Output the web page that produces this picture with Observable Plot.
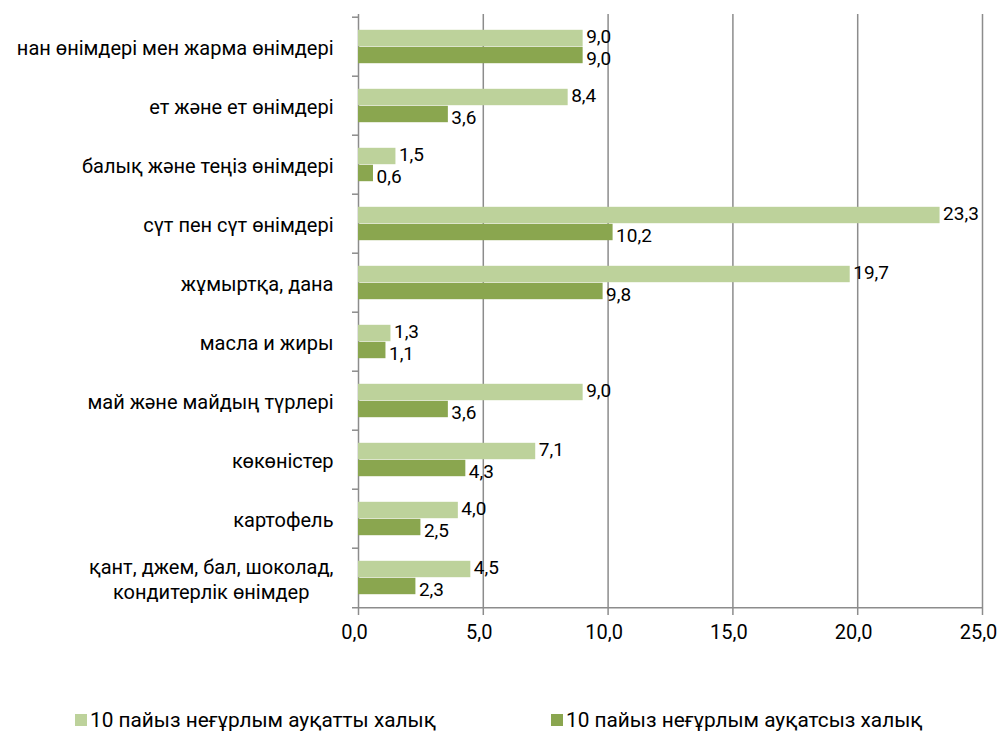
<!DOCTYPE html>
<html>
<head>
<meta charset="utf-8">
<script src="https://cdn.jsdelivr.net/npm/d3@7"></script>
<script src="https://cdn.jsdelivr.net/npm/@observablehq/plot@0.6"></script>
<style>
  body { margin: 0; background: #fff; }
  #chart { position: relative; width: 999px; height: 734px; }
  .legend { position: absolute; top: 706px; left: 0; width: 999px; height: 28px;
            font-family: Roboto, sans-serif; font-size: 20.8px; color: #000; }
  .legend .item { position: absolute; top: 0; display: flex; align-items: center; height: 28px; white-space: nowrap; }
  .legend .sw { width: 12px; height: 12px; margin-right: 3px; }
</style>
</head>
<body>
<div id="chart"></div>
<script>
const categories = [
  "нан өнімдері мен жарма өнімдері",
  "ет және ет өнімдері",
  "балық және теңіз өнімдері",
  "сүт пен сүт өнімдері",
  "жұмыртқа, дана",
  "масла и жиры",
  "май және майдың түрлері",
  "көкөністер",
  "картофель",
  "қант, джем, бал, шоколад,\nкондитерлік өнімдер"
];
const seriesNames = ["10 пайыз неғұрлым ауқатты халық", "10 пайыз неғұрлым ауқатсыз халық"];
const richValues = [9.0, 8.4, 1.5, 23.3, 19.7, 1.3, 9.0, 7.1, 4.0, 4.5];
const poorValues = [9.0, 3.6, 0.6, 10.2, 9.8, 1.1, 3.6, 4.3, 2.5, 2.3];
const xTicks = [0, 5, 10, 15, 20, 25];
const colors = ["#bdd29b", "#8aa64f"];

const rows = [];
categories.forEach((c, i) => {
  rows.push({cat: c, series: seriesNames[0], value: richValues[i]});
  rows.push({cat: c, series: seriesNames[1], value: poorValues[i]});
});
const fmt = v => d3.format(".1f")(v).replace(".", ",");

const W = 999, H = 670, mt = 14, mb = 60, ml = 358, mr = 17;
const bw = (H - mt - mb) / categories.length;
const pairH = 34;
const outer = (bw - pairH) / 2;

const light = rows.filter(d => d.series === seriesNames[0]);
const dark = rows.filter(d => d.series === seriesNames[1]);

const plot = Plot.plot({
  width: W, height: H,
  marginTop: mt, marginBottom: mb, marginLeft: ml, marginRight: mr,
  style: {fontFamily: "Roboto, sans-serif", fontSize: "20px", color: "#000", background: "#fff", overflow: "visible"},
  x: {domain: [0, 25]},
  y: {domain: categories, padding: 0},
  color: {domain: seriesNames, range: colors},
  marks: [
    Plot.gridX(xTicks, {stroke: "#8c8c8c", strokeOpacity: 1, strokeWidth: 1.5}),
    Plot.ruleY(categories, {y: d => d, x1: 0, x2: 0, insetLeft: -6, dy: -bw / 2, stroke: "#8c8c8c", strokeWidth: 1.5}),
    Plot.ruleY(categories.slice(-1), {y: d => d, x1: 0, x2: 25, insetLeft: -6, dy: bw / 2, stroke: "#8c8c8c", strokeWidth: 1.5}),
    Plot.barX(light, {x: "value", y: "cat", fill: "series", insetTop: outer, insetBottom: bw / 2}),
    Plot.barX(dark, {x: "value", y: "cat", fill: "series", insetTop: bw / 2, insetBottom: outer}),
    Plot.text(light, {x: "value", y: "cat", text: d => fmt(d.value), dx: 3, dy: -pairH / 4 - 2, textAnchor: "start", fill: "#000", fontSize: 19}),
    Plot.text(dark, {x: "value", y: "cat", text: d => fmt(d.value), dx: 3, dy: pairH / 4 + 3, textAnchor: "start", fill: "#000", fontSize: 19}),
    Plot.axisY({tickSize: 0, tickPadding: 25, label: null, fontSize: 20, lineHeight: 1.25}),
    Plot.axisX({ticks: xTicks, tickSize: 5, text: null, label: null, stroke: "#8c8c8c", strokeWidth: 1.5}),
    Plot.axisX({ticks: xTicks, tickFormat: fmt, tickSize: 0, tickPadding: 14, dx: -4, label: null, fontSize: 20})
  ]
});
plot.style.position = "absolute";
plot.style.left = "0";
plot.style.top = "0";
const chart = document.getElementById("chart");
chart.appendChild(plot);

// center the two-line category label, as in the reference
d3.select(plot).selectAll("text").each(function() {
  if (this.querySelectorAll("tspan").length > 1) {
    const w = this.getBBox().width;
    const t = this.getAttribute("transform") || "";
    this.setAttribute("text-anchor", "middle");
    this.setAttribute("transform", t + ` translate(${-w / 2},0)`);
  }
});

const legend = document.createElement("div");
legend.className = "legend";
const lefts = [75, 551];
seriesNames.forEach((s, i) => {
  const item = document.createElement("div");
  item.className = "item";
  item.style.left = lefts[i] + "px";
  const sw = document.createElement("span");
  sw.className = "sw";
  sw.style.background = colors[i];
  const t = document.createElement("span");
  t.textContent = s;
  item.appendChild(sw);
  item.appendChild(t);
  legend.appendChild(item);
});
chart.appendChild(legend);
</script>
</body>
</html>
